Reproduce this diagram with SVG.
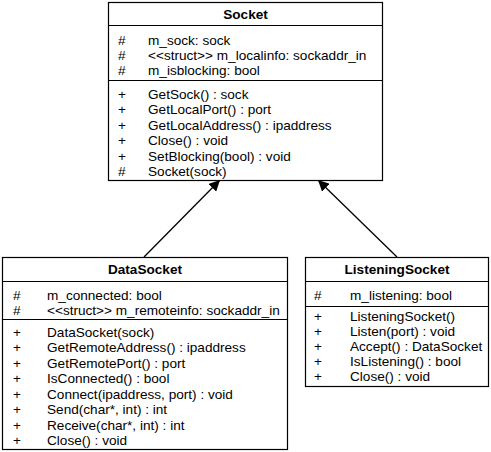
<svg xmlns="http://www.w3.org/2000/svg" width="491" height="452" viewBox="0 0 491 452">
<style>
.box{fill:#fff;stroke:#000;stroke-width:1.2}
.sep{stroke:#000;stroke-width:1.2}
.t{font-family:"Liberation Sans",Arial,sans-serif;font-size:13.6px;fill:#000}
.h{font-family:"Liberation Sans",Arial,sans-serif;font-size:13.6px;font-weight:bold;fill:#000;text-anchor:middle}
.conn{stroke:#000;stroke-width:1.3;fill:none}
</style>
<defs>
<marker id="tri" viewBox="0 0 10 10" refX="10" refY="5" markerWidth="11" markerHeight="11" markerUnits="userSpaceOnUse" orient="auto">
<path d="M0,0 L10,5 L0,10 Z" fill="#000"/>
</marker>
</defs>
<g id="connectors">
<line class="conn" x1="144" y1="257" x2="220" y2="180" marker-end="url(#tri)"/>
<line class="conn" x1="397" y1="257" x2="318" y2="180" marker-end="url(#tri)"/>
</g>
<g id="Socket">
<rect class="box" x="108.5" y="2.5" width="274" height="178"/>
<text class="h" x="245.5" y="18.5">Socket</text>
<line class="sep" x1="108.5" y1="25.5" x2="382.5" y2="25.5"/>
<text class="t" x="118" y="44.5">#</text><text class="t" x="148" y="44.5">m_sock: sock</text>
<text class="t" x="118" y="59.5">#</text><text class="t" x="148" y="59.5">&lt;&lt;struct&gt;&gt; m_localinfo: sockaddr_in</text>
<text class="t" x="118" y="74.5">#</text><text class="t" x="148" y="74.5">m_isblocking: bool</text>
<line class="sep" x1="108.5" y1="80.5" x2="382.5" y2="80.5"/>
<text class="t" x="118" y="98.5">+</text><text class="t" x="148" y="98.5">GetSock() : sock</text>
<text class="t" x="118" y="114">+</text><text class="t" x="148" y="114">GetLocalPort() : port</text>
<text class="t" x="118" y="129.5">+</text><text class="t" x="148" y="129.5">GetLocalAddress() : ipaddress</text>
<text class="t" x="118" y="145">+</text><text class="t" x="148" y="145">Close() : void</text>
<text class="t" x="118" y="160.5">+</text><text class="t" x="148" y="160.5">SetBlocking(bool) : void</text>
<text class="t" x="118" y="176">#</text><text class="t" x="148" y="176">Socket(sock)</text>
</g>
<g id="DataSocket">
<rect class="box" x="2.5" y="257.5" width="285" height="192"/>
<text class="h" x="145" y="273.5">DataSocket</text>
<line class="sep" x1="2.5" y1="281.5" x2="287.5" y2="281.5"/>
<text class="t" x="13" y="299.5">#</text><text class="t" x="47" y="299.5">m_connected: bool</text>
<text class="t" x="13" y="314.5">#</text><text class="t" x="47" y="314.5">&lt;&lt;struct&gt;&gt; m_remoteinfo: sockaddr_in</text>
<line class="sep" x1="2.5" y1="319.5" x2="287.5" y2="319.5"/>
<text class="t" x="13" y="336.5">+</text><text class="t" x="47" y="336.5">DataSocket(sock)</text>
<text class="t" x="13" y="352">+</text><text class="t" x="47" y="352">GetRemoteAddress() : ipaddress</text>
<text class="t" x="13" y="367.5">+</text><text class="t" x="47" y="367.5">GetRemotePort() : port</text>
<text class="t" x="13" y="383">+</text><text class="t" x="47" y="383">IsConnected() : bool</text>
<text class="t" x="13" y="398.5">+</text><text class="t" x="47" y="398.5">Connect(ipaddress, port) : void</text>
<text class="t" x="13" y="414">+</text><text class="t" x="47" y="414">Send(char*, int) : int</text>
<text class="t" x="13" y="429.5">+</text><text class="t" x="47" y="429.5">Receive(char*, int) : int</text>
<text class="t" x="13" y="445">+</text><text class="t" x="47" y="445">Close() : void</text>
</g>
<g id="ListeningSocket">
<rect class="box" x="305.5" y="257.5" width="183" height="129"/>
<text class="h" x="397" y="273.5">ListeningSocket</text>
<line class="sep" x1="305.5" y1="281.5" x2="488.5" y2="281.5"/>
<text class="t" x="314" y="299.5">#</text><text class="t" x="350" y="299.5">m_listening: bool</text>
<line class="sep" x1="305.5" y1="306.5" x2="488.5" y2="306.5"/>
<text class="t" x="314" y="320.5">+</text><text class="t" x="350" y="320.5">ListeningSocket()</text>
<text class="t" x="314" y="335.5">+</text><text class="t" x="350" y="335.5">Listen(port) : void</text>
<text class="t" x="314" y="350.5">+</text><text class="t" x="350" y="350.5">Accept() : DataSocket</text>
<text class="t" x="314" y="365.5">+</text><text class="t" x="350" y="365.5">IsListening() : bool</text>
<text class="t" x="314" y="380.5">+</text><text class="t" x="350" y="380.5">Close() : void</text>
</g>
</svg>
